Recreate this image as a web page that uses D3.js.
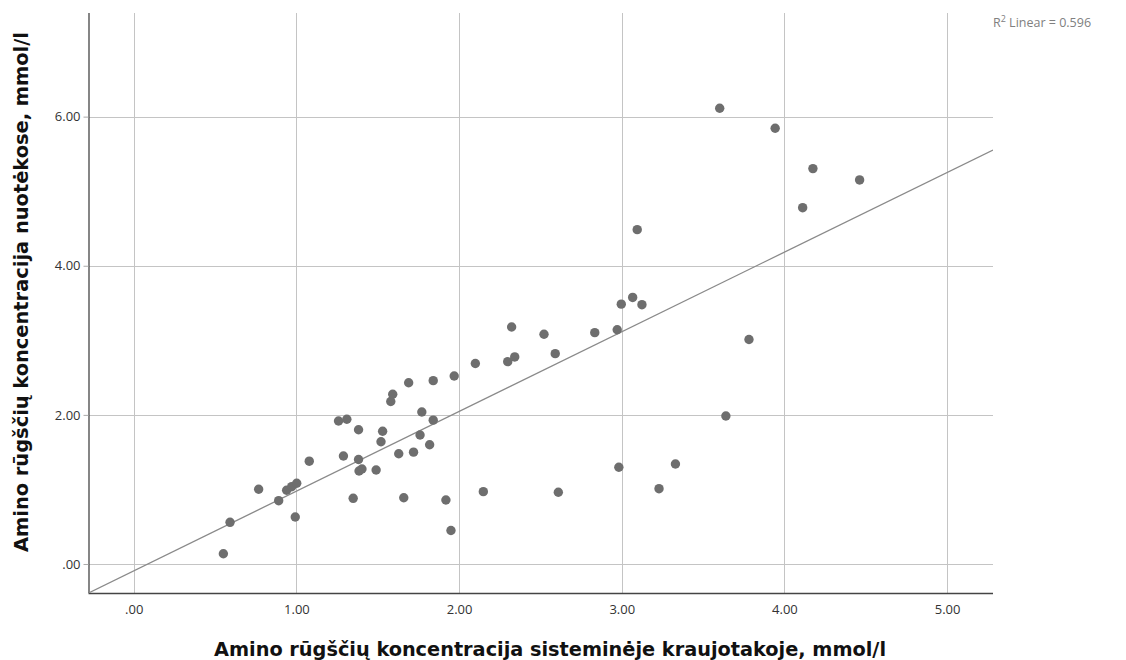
<!DOCTYPE html>
<html>
<head>
<meta charset="utf-8">
<script src="https://cdn.jsdelivr.net/npm/d3@7"></script>
<style>
  html, body { margin: 0; padding: 0; background: #fff; }
  svg { display: block; }
</style>
</head>
<body>
<svg id="chart" width="1126" height="660"></svg>
<script>
// ---- data ----
const xValues = [0.551,0.592,0.768,0.891,0.940,0.971,1.002,0.993,1.079,1.259,1.310,1.382,1.530,1.520,1.289,1.382,1.385,1.403,1.490,1.349,1.580,1.592,1.690,1.629,1.720,1.771,1.760,1.819,1.841,1.660,1.841,1.919,1.950,1.970,2.100,2.149,2.299,2.323,2.342,2.522,2.591,2.610,2.834,2.972,2.997,3.067,3.124,2.982,3.095,3.229,3.330,3.602,3.640,3.782,3.943,4.112,4.175,4.462];
const yValues = [0.138,0.559,1.002,0.849,0.989,1.037,1.083,0.630,1.379,1.918,1.941,1.800,1.781,1.639,1.449,1.402,1.247,1.274,1.261,0.881,2.180,2.276,2.431,1.478,1.500,2.039,1.730,1.600,1.929,0.889,2.459,0.858,0.449,2.522,2.689,0.970,2.714,3.179,2.777,3.081,2.821,0.962,3.103,3.142,3.485,3.575,3.478,1.298,4.484,1.010,1.341,6.113,1.985,3.011,5.844,4.779,5.303,5.151];
const xTicks = [0, 1, 2, 3, 4, 5];
const yTicks = [0, 2, 4, 6];
const fitIntercept = -0.092;
const fitSlope = 1.0687;
const r2Text = "0.596";
const xTitle = "Amino rūgščių koncentracija sisteminėje kraujotakoje, mmol/l";
const yTitle = "Amino rūgščių koncentracija nuotėkose, mmol/l";

// ---- layout ----
const plot = { left: 88.5, right: 993, top: 13, bottom: 593 };
const svg = d3.select("#chart");

const x = d3.scaleLinear().domain([-0.278, 5.282]).range([plot.left, plot.right]);
const y = d3.scaleLinear().domain([-0.389, 7.39]).range([plot.bottom, plot.top]);

const fmt = v => d3.format(".2f")(v).replace(/^0\./, ".");

svg.append("defs").append("clipPath").attr("id", "clip")
  .append("rect").attr("x", plot.left).attr("y", plot.top)
  .attr("width", plot.right - plot.left).attr("height", plot.bottom - plot.top);

// grid lines
const grid = svg.append("g").attr("stroke", "#c4c4c4").attr("stroke-width", 1.2).attr("shape-rendering", "crispEdges");
grid.selectAll("line.v").data(xTicks).join("line")
  .attr("x1", d => Math.round(x(d)) + 0.5).attr("x2", d => Math.round(x(d)) + 0.5)
  .attr("y1", plot.top).attr("y2", plot.bottom);
grid.selectAll("line.h").data(yTicks).join("line")
  .attr("y1", d => Math.round(y(d)) + 0.5).attr("y2", d => Math.round(y(d)) + 0.5)
  .attr("x1", plot.left).attr("x2", plot.right);

// axes
const xAxis = svg.append("g").attr("transform", `translate(0,${plot.bottom})`)
  .call(d3.axisBottom(x).tickValues(xTicks).tickFormat(fmt).tickSizeOuter(0).tickSize(0).tickPadding(12));
const yAxis = svg.append("g").attr("transform", `translate(${plot.left},0)`)
  .call(d3.axisLeft(y).tickValues(yTicks).tickFormat(fmt).tickSizeOuter(0).tickSize(5).tickPadding(3));

[xAxis, yAxis].forEach(a => {
  a.select(".domain").attr("stroke", "#444").attr("stroke-width", 1.3);
  a.selectAll(".tick line").attr("stroke", "#aaa");
  a.selectAll(".tick text").attr("font-family", "'Open Sans', 'DejaVu Sans', sans-serif")
    .attr("font-size", 13).attr("fill", "#333");
});
yAxis.select(".domain").attr("d", `M0.5,${plot.top}V${plot.bottom}`);
xAxis.select(".domain").attr("d", `M${plot.left},0.5H${plot.right}`);

// regression line
svg.append("line")
  .attr("clip-path", "url(#clip)")
  .attr("x1", x(x.domain()[0])).attr("y1", y(fitIntercept + fitSlope * x.domain()[0]))
  .attr("x2", x(x.domain()[1])).attr("y2", y(fitIntercept + fitSlope * x.domain()[1]))
  .attr("stroke", "#8a8a8a").attr("stroke-width", 1.3);

// points
svg.append("g").selectAll("circle").data(xValues.map((v, i) => [v, yValues[i]])).join("circle")
  .attr("cx", d => x(d[0])).attr("cy", d => y(d[1])).attr("r", 4.7)
  .attr("fill", "#6e6e6e");

// R² label
const r2 = svg.append("text").attr("x", 993).attr("y", 27)
  .attr("font-family", "'Open Sans', 'DejaVu Sans', sans-serif").attr("font-size", 12.5).attr("fill", "#808080");
r2.append("tspan").text("R");
r2.append("tspan").attr("font-size", 9).attr("dy", -5).text("2");
r2.append("tspan").attr("dy", 5).text(" Linear = " + r2Text);

// axis titles
svg.append("text").attr("x", 550).attr("y", 656).attr("text-anchor", "middle")
  .attr("font-family", "'DejaVu Sans Condensed', 'DejaVu Sans', sans-serif").attr("font-weight", "bold")
  .attr("font-size", 20).attr("fill", "#111")
  .attr("textLength", 672).attr("lengthAdjust", "spacingAndGlyphs").text(xTitle);
svg.append("text").attr("transform", `translate(28,292) rotate(-90)`)
  .attr("text-anchor", "middle")
  .attr("font-family", "'DejaVu Sans Condensed', 'DejaVu Sans', sans-serif").attr("font-weight", "bold")
  .attr("font-size", 20).attr("fill", "#111")
  .attr("textLength", 520).attr("lengthAdjust", "spacingAndGlyphs").text(yTitle);
</script>
</body>
</html>
